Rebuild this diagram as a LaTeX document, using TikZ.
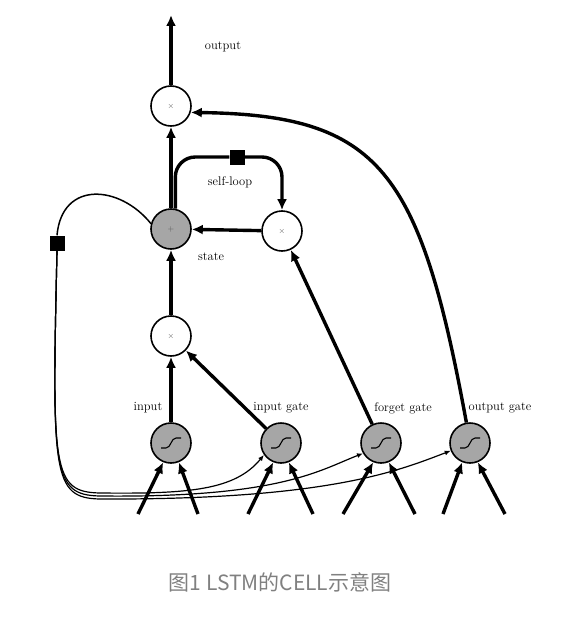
\documentclass[tikz,border=0pt]{standalone}
\usepackage{fontspec}
\newfontfamily\cjk{Noto Sans CJK SC}
\usetikzlibrary{arrows.meta}

\begin{document}
\begin{tikzpicture}[x=1pt,y=-1pt]

    \tikzset{
      unit/.style={
        circle,
        draw,
        line width=1.6pt,
        minimum size=40pt,
        inner sep=0pt,
        font=\footnotesize,
        text=black!65,
      },
      prod/.style={unit, fill=white},
      gate/.style={unit, fill=gray!70},
      lbl/.style={font=\fontsize{12.5}{14}\selectfont},
      delay/.style={fill=black, minimum size=15pt, inner sep=0pt},
      wire/.style={line width=3.4pt, -{Latex[length=11pt,width=10pt]}},
      thinwire/.style={line width=1.2pt, -{Latex[length=6pt,width=5pt]}},
    }
    \useasboundingbox (0,0) rectangle (560,618);

	% cell units
	\node[prod] (out) at (171,106) {$\times$};
	\node[gate] (state) at (171,229) {$+$};
	\node[prod] (forget) at (282,231) {$\times$};
	\node[prod] (in) at (171,336) {$\times$};
	\node[delay] (loopsq) at (237,157) {};
	\node[delay] (cellsq) at (57,243) {};
	\coordinate (top) at (171,15);

	\node[lbl] (outlbl) at (223,47) {output};
	\node[lbl] (looplbl) at (230,182) {self-loop};
	\node[lbl] (statelbl) at (211,257) {state};

	% squashing units
	\foreach \n/\x/\l/\r/\t/\tx in {g0/171/138/198/input/148, g1/281/248/313/input gate/281,
	    g2/381/343/415/forget gate/403, g3/470/443/505/output gate/500} {
	  \node[gate] (\n) at (\x,443) {};
	  \draw[line width=1.1pt] (\x-10,448) -- (\x-5,448) .. controls (\x,448) and (\x,438) .. (\x+5,438) -- (\x+10,438);
	  \node[lbl] (\n lbl) at (\tx,408) {\t};
	  \coordinate (\n l) at (\l,514);
	  \coordinate (\n r) at (\r,514);
	  \draw[wire] (\n l) -- (\n.-112);
	  \draw[wire] (\n r) -- (\n.-68);
	}

	\draw[wire] (out) -- (top);
	\draw[wire] (state) -- (out);
	\draw[wire] (in) -- (state);
	\draw[wire] (forget) -- (state);
	\draw[wire] (g0) -- (in);
	\draw[wire] (g1) -- (in);
	\draw[wire] (g2) -- (forget);
	\draw[wire] (g3.100) .. controls (420,170) and (380,115) .. (out.-18);

	% self-loop
	\draw[line width=3.4pt, rounded corners=20pt] (state.78) |- (loopsq);
	\draw[wire, rounded corners=20pt] (loopsq) -| (forget);

	% state fed back to the gates
	\draw[line width=1.5pt] (state.165) .. controls (120,185) and (62,180) .. (cellsq.north);
	\draw[thinwire] (cellsq.south) .. controls (52,470) and (52,492) .. (100,493) .. controls (190,494) and (235,490) .. (g1.-145);
	\draw[thinwire] (cellsq.south) .. controls (52,472) and (52,495) .. (100,496) .. controls (280,498) and (320,470) .. (g2.-150);
	\draw[thinwire] (cellsq.south) .. controls (52,474) and (52,498) .. (100,499) .. controls (330,500) and (400,470) .. (g3.-158);

	\node[font=\cjk\fontsize{21}{24}\selectfont, text=gray] (caption) at (280,582) {图1 LSTM的CELL示意图};

\end{tikzpicture}
\end{document}
